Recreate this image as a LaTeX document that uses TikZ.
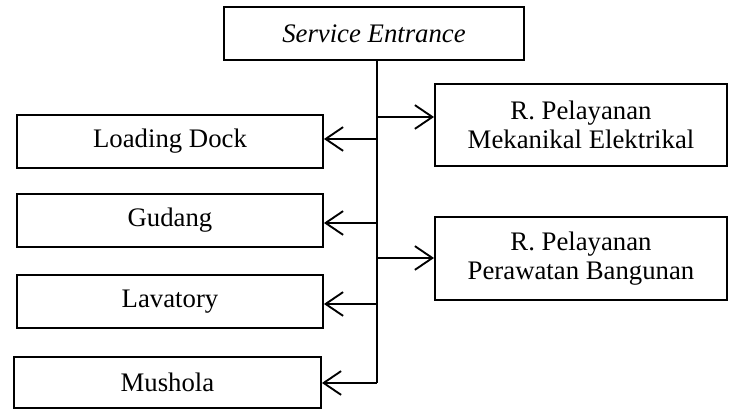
\documentclass[tikz,border=0pt]{standalone}
\usepackage{fontspec}
\setmainfont{Liberation Serif}
\usetikzlibrary{arrows.meta}

\begin{document}
\begin{tikzpicture}[x=0.4pt,y=-0.4pt,
    box/.style={draw,line width=0.75pt,rectangle,align=center,inner sep=0pt,
        font=\fontsize{10.7}{11.6}\selectfont},
    link/.style={line width=0.75pt},
    arr/.style={link,-{Straight Barb[length=7pt,width=9.5pt,line width=0.75pt]}}]
\useasboundingbox (0,0) rectangle (729,410);
% Boxes
\node[box,minimum width=120pt,minimum height=21.2pt] (SE) at (374,33.5){\textit{Service Entrance}};
\node[box,minimum width=122.4pt,minimum height=21.2pt] (LD) at (170,141.5){Loading Dock};
\node[box,minimum width=122.4pt,minimum height=21.2pt] (GD) at (170,220.5){Gudang};
\node[box,minimum width=122.4pt,minimum height=21.2pt] (LV) at (170,301.5){Lavatory};
\node[box,minimum width=122.8pt,minimum height=20.4pt] (MS) at (167.5,382.5){Mushola};
\node[box,minimum width=116.8pt,minimum height=32.8pt] (ME) at (581,125){R. Pelayanan\\Mekanikal Elektrikal};
\node[box,minimum width=116.8pt,minimum height=33.2pt] (PB) at (581,258.5){R. Pelayanan\\Perawatan Bangunan};
% Trunk
\coordinate (tME) at (377,117);
\coordinate (tLD) at (377,139);
\coordinate (tGD) at (377,223);
\coordinate (tPB) at (377,258);
\coordinate (tLV) at (377,304);
\coordinate (tMS) at (377,383);
\draw[link] (SE.south -| tMS) -- (tMS);
% Connection
\draw[arr] (tME) -- (tME -| ME.west);
\draw[arr] (tPB) -- (tPB -| PB.west);
\draw[arr] (tLD) -- (tLD -| LD.east);
\draw[arr] (tGD) -- (tGD -| GD.east);
\draw[arr] (tLV) -- (tLV -| LV.east);
\draw[arr] (tMS) -- (tMS -| MS.east);
\end{tikzpicture}
\end{document}
